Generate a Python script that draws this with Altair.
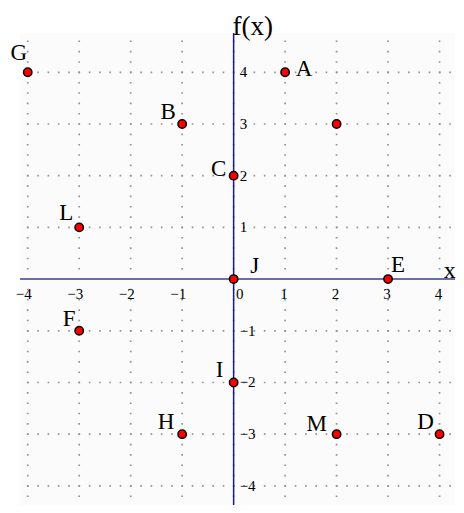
import altair as alt
import pandas as pd

# ---- data ----
point_names = ["G", "A", "B", "", "C", "L", "J", "E", "F", "I", "H", "M", "D"]
point_x = [-4, 1, -1, 2, 0, -3, 0, 3, -3, 0, -1, 2, 4]
point_y = [4, 4, 3, 3, 2, 1, 0, 0, -1, -2, -3, -3, -3]

x_ticks = [-4, -3, -2, -1, 0, 1, 2, 3, 4]
y_ticks = [-4, -3, -2, -1, 1, 2, 3, 4]
grid_values = [-4, -3, -2, -1, 0, 1, 2, 3, 4]

# ---- layout (label placement, pixels) ----
label_dx = [-9, 19, -14, 0, -15, -13, 21, 10, -10, -14, -16, -20, -14]
label_dy = [-19, -3, -12, 0, -7, -14, -13, -14, -12, -12, -12, -10, -12]

W, H = 435, 472
X_DOMAIN = [-4.15, 4.3]
Y_DOMAIN = [-4.37, 4.76]
SERIF = "Liberation Serif"

xs = alt.Scale(domain=X_DOMAIN, nice=False, zero=False)
ys = alt.Scale(domain=Y_DOMAIN, nice=False, zero=False)

pts = pd.DataFrame({"x": point_x, "y": point_y, "name": point_names,
                    "dx": label_dx, "dy": label_dy})
grid = pd.DataFrame({"v": grid_values})
xt = pd.DataFrame({"v": x_ticks})
yt = pd.DataFrame({"v": y_ticks})
origin = pd.DataFrame({"v": [0]})

GRID_COLOR = "#929292"

vgrid = alt.Chart(grid).mark_rule(
    color=GRID_COLOR, strokeWidth=1.7, strokeDash=[1.6, 8.74], strokeDashOffset=2.82
).encode(
    x=alt.X("v:Q", scale=xs, axis=None),
    y=alt.value(0), y2=alt.value(H),
)

hgrid = alt.Chart(grid).mark_rule(
    color=GRID_COLOR, strokeWidth=1.7, strokeDash=[1.6, 8.7], strokeDashOffset=3.32
).encode(
    y=alt.Y("v:Q", scale=ys, axis=None),
    x=alt.value(0), x2=alt.value(W),
)

xaxis_line = alt.Chart(origin).mark_rule(color="#6c6cb2", strokeWidth=2).encode(
    y=alt.Y("v:Q", scale=ys, axis=None),
    x=alt.value(0), x2=alt.value(W),
)

yaxis_line = alt.Chart(origin).mark_rule(color="#1a1a8c", strokeWidth=1.5).encode(
    x=alt.X("v:Q", scale=xs, axis=None),
    y=alt.value(0), y2=alt.value(H),
)

xlabels = alt.Chart(xt).transform_calculate(
    zero="0",
    off="datum.v < 0 ? -4 : (datum.v == 0 ? 6 : -1)",
    lab="datum.v < 0 ? '\u2212' + abs(datum.v) : '' + datum.v",
).mark_text(
    font=SERIF, fontSize=15, align="center", baseline="middle", dy=15, color="black",
    dx=alt.ExprRef("datum.off"),
).encode(
    x=alt.X("v:Q", scale=xs, axis=None),
    y=alt.Y("zero:Q", scale=ys, axis=None),
    text="lab:N",
)

ylabels = alt.Chart(yt).transform_calculate(
    zero="0",
    lab="datum.v < 0 ? '\u2212' + abs(datum.v) : '' + datum.v",
).mark_text(font=SERIF, fontSize=15, align="left", baseline="middle", dx=6, color="black").encode(
    x=alt.X("zero:Q", scale=xs, axis=None),
    y=alt.Y("v:Q", scale=ys, axis=None),
    text="lab:N",
)

points = alt.Chart(pts).mark_circle(
    color="#ff0000", stroke="black", strokeWidth=1.5, size=70, opacity=1
).encode(
    x=alt.X("x:Q", scale=xs, axis=None),
    y=alt.Y("y:Q", scale=ys, axis=None),
)

labels = alt.Chart(pts).transform_filter("datum.name != ''").mark_text(
    font=SERIF, fontSize=23, align="center", baseline="middle", color="black",
    dx=alt.ExprRef("datum.dx"), dy=alt.ExprRef("datum.dy"),
).encode(
    x=alt.X("x:Q", scale=xs, axis=None),
    y=alt.Y("y:Q", scale=ys, axis=None),
    text="name:N",
)

ytitle = alt.Chart(origin).transform_calculate(t="'f(x)'").mark_text(
    font=SERIF, fontSize=27, align="center", baseline="alphabetic", dx=19, color="black"
).encode(
    x=alt.X("v:Q", scale=xs, axis=None),
    y=alt.value(2),
    text="t:N",
)

xtitle = alt.Chart(origin).transform_calculate(t="'x'", xp="4.08").mark_text(
    font=SERIF, fontSize=24, align="left", baseline="alphabetic", dy=-1, color="black"
).encode(
    x=alt.X("xp:Q", scale=xs, axis=None),
    y=alt.Y("v:Q", scale=ys, axis=None),
    text="t:N",
)

chart = alt.layer(
    vgrid, hgrid, xaxis_line, yaxis_line, xlabels, ylabels, points, labels, ytitle, xtitle
).properties(
    width=W, height=H,
    padding={"left": 12, "top": 25, "right": 1, "bottom": 0},
    autosize=alt.AutoSizeParams(type="none"),
).configure_view(fill="#fbfbfb", stroke=None)

chart.save("out.html", embed_options={"renderer": "svg", "actions": False})
